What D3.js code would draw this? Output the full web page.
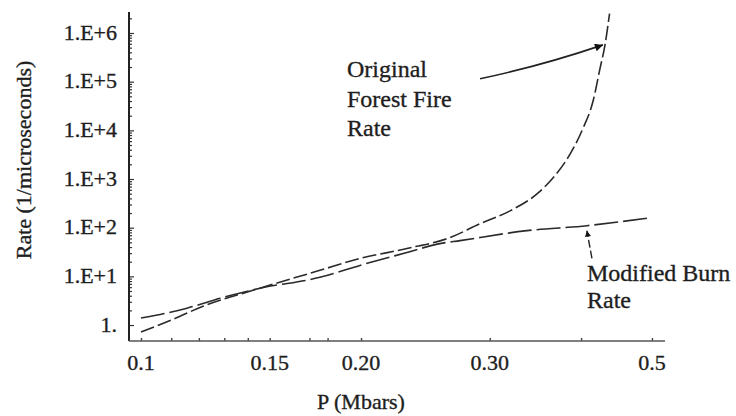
<!DOCTYPE html>
<html>
<head>
<meta charset="utf-8">
<script src="https://cdn.jsdelivr.net/npm/d3@7"></script>
<style>
  html, body { margin: 0; padding: 0; background: #fff; }
  svg { display: block; }
  text { font-family: "Liberation Serif", "Times New Roman", serif; fill: #1e1e1e; stroke: #1e1e1e; stroke-width: 0.35; }
</style>
</head>
<body>
<svg id="chart" width="736" height="416"></svg>
<script>
// Pressure (Mbar) and rate (1/microsecond) samples for the two rate laws
const originalP    = [0.100, 0.110, 0.1216, 0.1423, 0.1757, 0.1993, 0.2311, 0.2646, 0.2910, 0.3198, 0.3481, 0.3660, 0.3863, 0.4024, 0.4152, 0.4245, 0.4313, 0.4375];
const originalRate = [0.72, 1.26, 2.44, 5.18, 13.3, 23.3, 37.3, 62.5, 121, 222, 494, 1050, 3240, 11000, 39000, 185000, 570000, 2500000];

const modifiedP    = [0.100, 0.1156, 0.1283, 0.1455, 0.1757, 0.1993, 0.2311, 0.2564, 0.2732, 0.3373, 0.4074, 0.4971];
const modifiedRate = [1.39, 2.22, 3.56, 5.69, 9.55, 16.8, 30.9, 47.1, 54.3, 86.9, 110, 160];

// Axis ticks
const xTickValues = [0.1, 0.15, 0.20, 0.30, 0.5];
const xTickLabels = ["0.1", "0.15", "0.20", "0.30", "0.5"];
const xMinorTicks = [0.11, 0.12, 0.13, 0.14, 0.17, 0.18, 0.4];
const yTickValues = [1, 10, 100, 1000, 10000, 100000, 1000000];
const yTickLabels = ["1.", "1.E+1", "1.E+2", "1.E+3", "1.E+4", "1.E+5", "1.E+6"];

// Annotation text and arrow endpoints (in data units)
const originalLabel = ["Original", "Forest Fire", "Rate"];
const modifiedLabel = ["Modified Burn", "Rate"];
const originalArrow = { from: [0.291, 1.15e5], to: [0.4285, 5.7e5] };
const modifiedArrow = { from: [0.4139, 23.3], to: [0.4074, 87] };

const svg = d3.select("#chart");

const x = d3.scaleLog().domain([0.0963, 0.521]).range([129, 665]);
const y = d3.scaleLog().domain([0.47, 2.7e6]).range([341, 12]);

const ink = "#2a2a2a";

// Arrowhead markers
const defs = svg.append("defs");
defs.append("marker")
  .attr("id", "headBig")
  .attr("viewBox", "0 0 10 10")
  .attr("refX", 10).attr("refY", 5)
  .attr("markerWidth", 15).attr("markerHeight", 8)
  .attr("markerUnits", "userSpaceOnUse")
  .attr("orient", "auto")
  .append("path").attr("d", "M0,0 L10,5 L0,10 Z").attr("fill", "#111");
defs.append("marker")
  .attr("id", "headSmall")
  .attr("viewBox", "0 0 10 10")
  .attr("refX", 10).attr("refY", 5)
  .attr("markerWidth", 9).attr("markerHeight", 6)
  .attr("markerUnits", "userSpaceOnUse")
  .attr("orient", "auto")
  .append("path").attr("d", "M0,0 L10,5 L0,10 Z").attr("fill", "#111");

// Y axis: majors with labels, minors for 2..9 of each decade
const yMinor = [];
for (let e = 0; e <= 6; e++) {
  for (let m = 2; m <= 9; m++) {
    const v = m * Math.pow(10, e);
    if (v < 2.7e6) yMinor.push(v);
  }
}
const yAxisG = svg.append("g").attr("transform", `translate(${x.range()[0]},0)`);
yAxisG.call(d3.axisRight(y).tickValues(yMinor).tickSize(3).tickFormat(""));
yAxisG.append("g").call(d3.axisRight(y).tickValues(yTickValues).tickSize(5).tickFormat(""));
yAxisG.selectAll(".domain").remove();
yAxisG.selectAll("line").attr("stroke", "#333").attr("stroke-width", 1.2);
svg.append("line")
  .attr("x1", x.range()[0]).attr("x2", x.range()[0])
  .attr("y1", y.range()[1]).attr("y2", y.range()[0])
  .attr("stroke", "#222").attr("stroke-width", 2);

svg.append("g").selectAll("text").data(yTickValues).join("text")
  .attr("x", 117)
  .attr("y", d => y(d))
  .attr("dy", "0.3em")
  .attr("text-anchor", "end")
  .attr("font-size", 22)
  .text((d, i) => yTickLabels[i]);

// X axis
const xAxisG = svg.append("g").attr("transform", `translate(0,${y.range()[0]})`);
xAxisG.call(d3.axisTop(x).tickValues(xTickValues.concat(xMinorTicks)).tickSize(3).tickFormat(""));
xAxisG.selectAll(".domain").remove();
xAxisG.selectAll("line").attr("stroke", "#444").attr("stroke-width", 1.4);
svg.append("line")
  .attr("x1", x.range()[0]).attr("x2", x.range()[1])
  .attr("y1", y.range()[0]).attr("y2", y.range()[0])
  .attr("stroke", "#555").attr("stroke-width", 1.6);

svg.append("g").selectAll("text").data(xTickValues).join("text")
  .attr("x", d => x(d))
  .attr("y", 370)
  .attr("text-anchor", "middle")
  .attr("font-size", 22)
  .text((d, i) => xTickLabels[i]);

// Axis titles
svg.append("text")
  .attr("transform", "translate(31,160) rotate(-90)")
  .attr("text-anchor", "middle")
  .attr("font-size", 22)
  .text("Rate (1/microseconds)");
svg.append("text")
  .attr("x", 361).attr("y", 409)
  .attr("text-anchor", "middle")
  .attr("font-size", 22)
  .text("P (Mbars)");

// Curves
const line = d3.line()
  .x(d => x(d[0]))
  .y(d => y(d[1]))
  .curve(d3.curveMonotoneX);

svg.append("path")
  .datum(modifiedP.map((p, i) => [p, modifiedRate[i]]))
  .attr("d", line)
  .attr("fill", "none")
  .attr("stroke", ink)
  .attr("stroke-width", 1.6)
  .attr("stroke-dasharray", "24,5");

svg.append("path")
  .datum(originalP.map((p, i) => [p, originalRate[i]]))
  .attr("d", line)
  .attr("fill", "none")
  .attr("stroke", ink)
  .attr("stroke-width", 1.6)
  .attr("stroke-dasharray", "14,4");

// Annotations
const origText = svg.append("text").attr("font-size", 24);
origText.selectAll("tspan").data(originalLabel).join("tspan")
  .attr("x", 347)
  .attr("y", (d, i) => 77 + i * 29.5)
  .text(d => d);

const modText = svg.append("text").attr("font-size", 24);
modText.selectAll("tspan").data(modifiedLabel).join("tspan")
  .attr("x", 587)
  .attr("y", (d, i) => 281 + i * 27)
  .text(d => d);

const ax1 = x(originalArrow.from[0]), ay1 = y(originalArrow.from[1]);
const ax2 = x(originalArrow.to[0]),   ay2 = y(originalArrow.to[1]);
svg.append("path")
  .attr("d", `M${ax1},${ay1} Q${(ax1 + ax2) / 2},${(ay1 + ay2) / 2 + 4} ${ax2},${ay2}`)
  .attr("fill", "none")
  .attr("stroke", "#222")
  .attr("stroke-width", 1.6)
  .attr("marker-end", "url(#headBig)");

svg.append("line")
  .attr("x1", x(modifiedArrow.from[0])).attr("y1", y(modifiedArrow.from[1]))
  .attr("x2", x(modifiedArrow.to[0])).attr("y2", y(modifiedArrow.to[1]))
  .attr("stroke", "#222")
  .attr("stroke-width", 1.4)
  .attr("stroke-dasharray", "8,3")
  .attr("marker-end", "url(#headSmall)");
</script>
</body>
</html>
